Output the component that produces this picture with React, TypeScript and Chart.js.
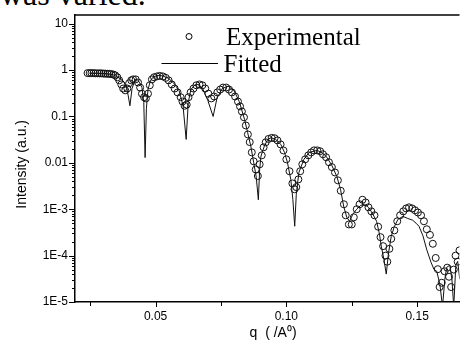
import React, { useEffect, useRef } from 'react';
import { Chart, registerables } from 'chart.js';

Chart.register(...registerables);

// Experimental data (q in 1/A, intensity a.u.)
const qExp = [
  0.0240, 0.0248, 0.0255, 0.0263, 0.0270, 0.0278, 0.0286, 0.0293, 0.0301, 0.0308,
  0.0316, 0.0323, 0.0331, 0.0339, 0.0346, 0.0354, 0.0361, 0.0369, 0.0376, 0.0384,
  0.0392, 0.0399, 0.0407, 0.0414, 0.0424, 0.0433, 0.0441, 0.0448, 0.0456, 0.0463,
  0.0471, 0.0478, 0.0486, 0.0494, 0.0505, 0.0516, 0.0528, 0.0539, 0.0550, 0.0562,
  0.0573, 0.0584, 0.0596, 0.0603, 0.0611, 0.0619, 0.0626, 0.0634, 0.0645, 0.0656,
  0.0668, 0.0679, 0.0690, 0.0702, 0.0713, 0.0724, 0.0736, 0.0747, 0.0758, 0.0770,
  0.0781, 0.0792, 0.0804, 0.0815, 0.0823, 0.0830, 0.0838, 0.0845, 0.0853, 0.0860,
  0.0868, 0.0875, 0.0883, 0.0891, 0.0898, 0.0906, 0.0913, 0.0921, 0.0932, 0.0944,
  0.0955, 0.0966, 0.0978, 0.0989, 0.1000, 0.1012, 0.1023, 0.1031, 0.1038, 0.1046,
  0.1053, 0.1061, 0.1072, 0.1084, 0.1095, 0.1106, 0.1118, 0.1129, 0.1140, 0.1152,
  0.1163, 0.1174, 0.1186, 0.1197, 0.1208, 0.1220, 0.1227, 0.1239, 0.1250, 0.1258,
  0.1269, 0.1280, 0.1291, 0.1303, 0.1314, 0.1325, 0.1337, 0.1351, 0.1360, 0.1370,
  0.1379, 0.1386, 0.1394, 0.1401, 0.1413, 0.1424, 0.1435, 0.1447, 0.1458, 0.1469,
  0.1481, 0.1492, 0.1503, 0.1515, 0.1526, 0.1537, 0.1549, 0.1560, 0.1571, 0.1579,
  0.1586, 0.1594, 0.1605, 0.1615, 0.1622, 0.1630, 0.1640, 0.1647, 0.1655, 0.1662,
];
const iExp = [
  0.86, 0.86, 0.86, 0.86, 0.85, 0.85, 0.85, 0.85, 0.84, 0.84,
  0.83, 0.83, 0.82, 0.80, 0.77, 0.70, 0.60, 0.49, 0.40, 0.365,
  0.40, 0.52, 0.60, 0.63, 0.63, 0.54, 0.42, 0.31, 0.26, 0.245,
  0.31, 0.47, 0.63, 0.70, 0.73, 0.75, 0.73, 0.68, 0.60, 0.49,
  0.40, 0.33, 0.26, 0.21, 0.17, 0.18, 0.26, 0.33, 0.40, 0.47,
  0.49, 0.47, 0.40, 0.31, 0.245, 0.27, 0.33, 0.38, 0.42, 0.42,
  0.38, 0.33, 0.27, 0.21, 0.165, 0.128, 0.096, 0.064, 0.041, 0.028,
  0.0168, 0.0108, 0.0072, 0.0052, 0.0093, 0.0145, 0.0216, 0.0277, 0.0328, 0.0345,
  0.034, 0.0305, 0.025, 0.0185, 0.0119, 0.0066, 0.0036, 0.0027, 0.003, 0.0044,
  0.0066, 0.0093, 0.0119, 0.0145, 0.0168, 0.0186, 0.0186, 0.0178, 0.0153, 0.0132,
  0.0103, 0.0081, 0.0062, 0.0042, 0.0025, 0.00128, 0.00074, 0.00047, 0.00047, 0.00067,
  0.001, 0.00128, 0.0016, 0.0014, 0.0011, 0.0009, 0.00074, 0.00042, 0.00025, 0.00016,
  0.0001, 7.4e-5, 0.00014, 0.00023, 0.00035, 0.00055, 0.00074, 0.0009, 0.00104, 0.0011,
  0.00104, 0.00095, 0.00085, 0.00074, 0.00055, 0.00037, 0.00028, 0.00018, 8.9e-5, 5.1e-5,
  2.1e-5, 2.6e-5, 4.6e-5, 5.5e-5, 3.5e-5, 2.1e-5, 5e-5, 1e-4, 7.4e-5, 1.3e-4,
];

// Fitted curve
const qFit = [
  0.0248, 0.0280, 0.0310, 0.0335, 0.0350, 0.0370, 0.0380, 0.0390, 0.0402, 0.0410,
  0.0422, 0.0430, 0.0438, 0.0448, 0.0455, 0.0460, 0.0465, 0.0471, 0.0480, 0.0490,
  0.0505, 0.0515, 0.0530, 0.0550, 0.0570, 0.0590, 0.0605, 0.0617, 0.0625, 0.0635,
  0.0650, 0.0664, 0.0680, 0.0700, 0.0720, 0.0735, 0.0755, 0.0777, 0.0800, 0.0820,
  0.0840, 0.0852, 0.0864, 0.0875, 0.0885, 0.0893, 0.0898, 0.0903, 0.0916, 0.0929,
  0.0941, 0.0959, 0.0979, 0.0993, 0.1004, 0.1017, 0.1025, 0.1032, 0.1038, 0.1048,
  0.1067, 0.1087, 0.1118, 0.1140, 0.1155, 0.1174, 0.1193, 0.1207, 0.1219, 0.1231,
  0.1242, 0.1254, 0.1269, 0.1284, 0.1299, 0.1314, 0.1329, 0.1345, 0.1356, 0.1363,
  0.1373, 0.1382, 0.1390, 0.1401, 0.1412, 0.1427, 0.1446, 0.1462, 0.1483, 0.1496,
  0.1507, 0.1522, 0.1537, 0.1553, 0.1564, 0.1575, 0.1587, 0.1597, 0.1606, 0.1613,
  0.1625, 0.1633, 0.1640, 0.1648, 0.1655, 0.1663,
];
const iFit = [
  0.85, 0.85, 0.84, 0.80, 0.74, 0.62, 0.55, 0.42, 0.17, 0.40,
  0.62, 0.62, 0.55, 0.42, 0.20, 0.013, 0.15, 0.38, 0.58, 0.70,
  0.76, 0.77, 0.74, 0.66, 0.52, 0.36, 0.17, 0.032, 0.20, 0.38,
  0.48, 0.49, 0.40, 0.22, 0.10, 0.25, 0.40, 0.45, 0.36, 0.21,
  0.087, 0.045, 0.023, 0.0103, 0.0049, 0.0016, 0.0072, 0.014, 0.023, 0.032,
  0.035, 0.032, 0.025, 0.0168, 0.0103, 0.0044, 0.0016, 0.00043, 0.0021, 0.0062,
  0.0119, 0.0168, 0.0186, 0.016, 0.0132, 0.0088, 0.0051, 0.0027, 0.00117, 0.00067,
  0.00055, 0.00078, 0.001, 0.00121, 0.00128, 0.0011, 0.00082, 0.00055, 0.00029, 0.00016,
  8.3e-5, 4e-5, 0.000107, 0.00026, 0.00041, 0.00061, 0.0007, 0.00064, 0.00058, 0.0005,
  0.00043, 0.00027, 0.000133, 7.2e-5, 5.1e-5, 4.6e-5, 2.4e-5, 8e-6, 3.1e-5, 5.6e-5,
  6.2e-5, 3.1e-5, 8e-6, 6.3e-5, 7.5e-5, 3.1e-5,
];

const xTickValues = [0.05, 0.1, 0.15];
const xTickLabels = ['0.05', '0.10', '0.15'];
const xMinorTickValues = [0.025, 0.075, 0.125];
const yTickValues = [1e-5, 1e-4, 1e-3, 0.01, 0.1, 1, 10];
const yTickLabels = ['1E-5', '1E-4', '1E-3', '0.01', '0.1', '1', '10'];

const X_MIN = 0.0192;
const X_MAX = 0.1662;
const Y_MIN = 1e-5;
const Y_MAX = 15.4;

const SANS = '"Liberation Sans", Arial, sans-serif';
const SERIF = '"Liberation Serif", "Times New Roman", serif';

export default function App() {
  const ref = useRef<HTMLCanvasElement>(null);

  useEffect(() => {
    const canvas = ref.current;
    if (!canvas) return;
    const nExp = Math.min(qExp.length, iExp.length);
    const nFit = Math.min(qFit.length, iFit.length);
    const expPts = qExp.slice(0, nExp).map((q, i) => ({ x: q, y: iExp[i] }));
    const fitPts = qFit.slice(0, nFit).map((q, i) => ({ x: q, y: iFit[i] }));

    const framePlugin = {
      id: 'framePlugin',
      afterDraw(chart: any) {
        const { ctx, chartArea: a, scales } = chart;
        const xs = scales.x;
        const ys = scales.y;
        ctx.save();
        ctx.strokeStyle = '#000';
        // top frame
        ctx.lineWidth = 1.5;
        ctx.beginPath();
        ctx.moveTo(a.left, a.top);
        ctx.lineTo(a.right, a.top);
        ctx.stroke();
        ctx.lineWidth = 1;
        // y ticks (major + minor on log scale)
        for (let e = -5; e <= 1; e++) {
          for (let k = 1; k <= 9; k++) {
            const v = k * Math.pow(10, e);
            if (v < Y_MIN * 0.999 || v > Y_MAX) continue;
            const py = Math.round(ys.getPixelForValue(v)) + 0.5;
            const len = k === 1 ? 6 : 3;
            ctx.beginPath();
            ctx.moveTo(a.left - len, py);
            ctx.lineTo(a.left, py);
            ctx.stroke();
          }
        }
        // x ticks
        const drawX = (v: number, len: number) => {
          const px = Math.round(xs.getPixelForValue(v)) + 0.5;
          ctx.beginPath();
          ctx.moveTo(px, a.bottom);
          ctx.lineTo(px, a.bottom + len);
          ctx.stroke();
        };
        xTickValues.forEach((v) => drawX(v, 5));
        xMinorTickValues.forEach((v) => drawX(v, 4));

        // legend
        const ds = chart.data.datasets;
        ctx.fillStyle = '#000';
        ctx.font = `25px ${SERIF}`;
        ctx.textBaseline = 'alphabetic';
        ctx.textAlign = 'left';
        ctx.beginPath();
        ctx.arc(189, 36.5, 3, 0, Math.PI * 2);
        ctx.lineWidth = 1;
        ctx.stroke();
        ctx.fillText(ds[0].label, 226, 45);
        ctx.beginPath();
        ctx.moveTo(161.5, 63.5);
        ctx.lineTo(218, 63.5);
        ctx.stroke();
        ctx.fillText(ds[1].label, 223.5, 71.5);
        ctx.restore();
      },
    };

    const chart = new Chart(canvas, {
      type: 'scatter',
      data: {
        datasets: [
          {
            label: 'Experimental',
            data: expPts,
            showLine: false,
            pointStyle: 'circle',
            pointRadius: 3.5,
            pointHoverRadius: 3.5,
            pointBorderWidth: 1,
            borderColor: '#000',
            pointBorderColor: '#111',
            backgroundColor: 'rgba(0,0,0,0)',
            pointBackgroundColor: 'rgba(0,0,0,0)',
            clip: 0,
          } as any,
          {
            label: 'Fitted',
            data: fitPts,
            showLine: true,
            pointRadius: 0,
            pointHoverRadius: 0,
            borderColor: '#111',
            borderWidth: 1,
            backgroundColor: 'rgba(0,0,0,0)',
            tension: 0,
            clip: 0,
          } as any,
        ],
      },
      options: {
        animation: false,
        responsive: false,
        events: [],
        layout: { padding: { top: 15, left: 0, right: 0, bottom: 0 } },
        plugins: {
          legend: { display: false },
          tooltip: { enabled: false },
          title: { display: false },
        },
        scales: {
          x: {
            type: 'linear',
            position: 'bottom',
            min: X_MIN,
            max: X_MAX,
            afterFit: (s: any) => {
              s.height = 49;
            },
            afterBuildTicks: (s: any) => {
              s.ticks = xTickValues.map((v) => ({ value: v }));
            },
            ticks: {
              autoSkip: false,
              maxRotation: 0,
              minRotation: 0,
              padding: 7.5,
              color: '#000',
              font: { family: SANS, size: 12 },
              callback: (v: any) => {
                const i = xTickValues.findIndex((t) => Math.abs(t - Number(v)) < 1e-9);
                return i >= 0 ? xTickLabels[i] : '';
              },
            },
            grid: { display: false, drawTicks: false, drawOnChartArea: false },
            border: { display: true, color: '#000', width: 1.5 },
            title: {
              display: true,
              text: '   q  ( /A\u2070)',
              color: '#000',
              font: { family: SANS, size: 14 },
              padding: { top: 0, bottom: 9.6 },
            },
          },
          y: {
            type: 'logarithmic',
            min: Y_MIN,
            max: Y_MAX,
            afterFit: (s: any) => {
              s.width = 75;
            },
            afterBuildTicks: (s: any) => {
              s.ticks = yTickValues.map((v) => ({ value: v, major: true }));
            },
            ticks: {
              autoSkip: false,
              padding: 7,
              color: '#000',
              font: { family: SANS, size: 12 },
              callback: (v: any) => {
                const n = Number(v);
                const i = yTickValues.findIndex((t) => Math.abs(t - n) / t < 1e-6);
                return i >= 0 ? yTickLabels[i] : '';
              },
            },
            grid: { display: false, drawTicks: false, drawOnChartArea: false },
            border: { display: true, color: '#000', width: 1.5 },
            title: {
              display: true,
              text: 'Intensity (a.u.)   ',
              color: '#000',
              font: { family: SANS, size: 14 },
              padding: { top: 13.3, bottom: 0 },
            },
          },
        },
      } as any,
      plugins: [framePlugin],
    });

    return () => chart.destroy();
  }, []);

  return (
    <div
      style={{
        position: 'absolute',
        left: 0,
        top: 0,
        width: 464,
        height: 351,
        overflow: 'hidden',
        background: '#fff',
      }}
    >
      <div
        style={{
          position: 'absolute',
          left: 0,
          top: -22,
          fontFamily: SERIF,
          fontSize: 32,
          lineHeight: '32px',
          whiteSpace: 'nowrap',
          color: '#000',
        }}
      >
        was varied.
      </div>
      <canvas
        ref={ref}
        width={464}
        height={351}
        style={{ position: 'absolute', left: 0, top: 0, width: 464, height: 351 }}
      />
    </div>
  );
}
